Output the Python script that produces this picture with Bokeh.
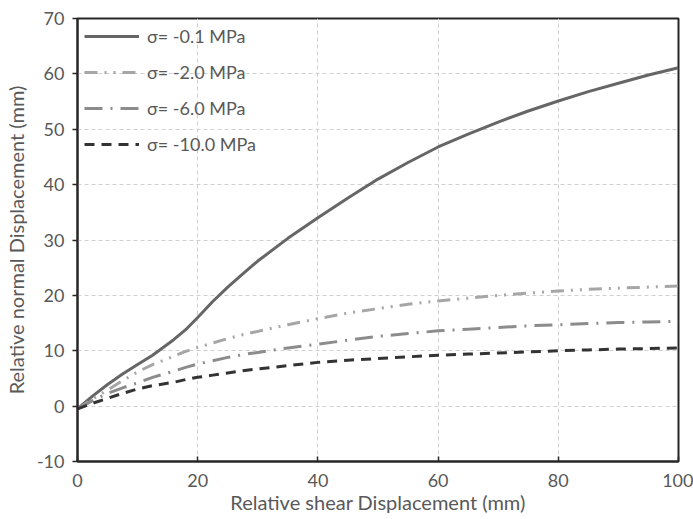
from bokeh.plotting import figure
from bokeh.models import Legend, LegendItem, FixedTicker, Range1d
from bokeh.embed import file_html
from bokeh.resources import INLINE

x_vals = [0, 2.5, 5, 7.5, 10, 12.5, 16, 18, 20, 22.5, 25, 27.5, 30, 35, 40, 45, 50, 55, 60, 65, 70, 75, 80, 85, 90, 95, 100]
s_01 = [-0.5, 1.8, 3.9, 5.8, 7.5, 9.2, 12.0, 13.8, 16.0, 18.9, 21.5, 23.9, 26.2, 30.3, 34.0, 37.6, 41.0, 44.0, 46.8, 49.1, 51.3, 53.3, 55.1, 56.8, 58.3, 59.8, 61.1]
s_20 = [-0.5, 1.3, 2.9, 4.6, 6.2, 7.5, 9.0, 9.9, 10.6, 11.4, 12.2, 12.9, 13.5, 14.7, 15.8, 16.8, 17.6, 18.4, 19.0, 19.5, 20.0, 20.4, 20.8, 21.1, 21.3, 21.5, 21.7]
s_60 = [-0.5, 1.0, 2.3, 3.3, 4.2, 5.2, 6.3, 7.0, 7.6, 8.2, 8.8, 9.3, 9.7, 10.5, 11.2, 11.9, 12.6, 13.1, 13.6, 13.9, 14.2, 14.5, 14.7, 14.9, 15.1, 15.2, 15.3]
s_100 = [-0.5, 0.5, 1.4, 2.3, 3.1, 3.7, 4.3, 4.8, 5.2, 5.6, 6.0, 6.4, 6.7, 7.3, 7.9, 8.3, 8.6, 8.9, 9.2, 9.4, 9.6, 9.8, 10.0, 10.15, 10.3, 10.4, 10.5]
labels = ["σ= -0.1 MPa", "σ= -2.0 MPa", "σ= -6.0 MPa", "σ= -10.0 MPa"]
x_ticks = [0, 20, 40, 60, 80, 100]
y_ticks = [-10, 0, 10, 20, 30, 40, 50, 60, 70]

FONT = "Lato"
TXT = "#595959"

p = figure(width=693, height=519, output_backend="svg", toolbar_location=None,
           x_range=Range1d(0, 100), y_range=Range1d(-10, 70),
           min_border_left=73, min_border_right=15, min_border_top=18, min_border_bottom=58)

p.outline_line_color = "#262626"
p.outline_line_width = 2
p.background_fill_color = "white"

for ax in (p.xaxis[0], p.yaxis[0]):
    ax.axis_line_color = "#262626"
    ax.axis_line_width = 2
    ax.major_tick_line_color = "#262626"
    ax.major_tick_line_width = 1.5
    ax.minor_tick_line_color = None
    ax.major_label_text_font = FONT
    ax.major_label_text_font_size = "18px"
    ax.major_label_text_color = TXT
    ax.axis_label_text_font = FONT
    ax.axis_label_text_font_size = "20px"
    ax.axis_label_text_color = TXT
    ax.axis_label_text_font_style = "normal"

p.xaxis.ticker = FixedTicker(ticks=x_ticks)
p.yaxis.ticker = FixedTicker(ticks=y_ticks)
p.yaxis.major_label_overrides = {t: str(t) for t in y_ticks}
p.xaxis.major_label_overrides = {t: str(t) for t in x_ticks}
p.xaxis.major_tick_in = 5
p.xaxis.major_tick_out = 0
p.yaxis.major_tick_in = 0
p.yaxis.major_tick_out = 5
p.xaxis.axis_label = "Relative shear Displacement (mm)"
p.yaxis.axis_label = "Relative normal Displacement (mm)"
p.xaxis.major_label_standoff = 12
p.yaxis.major_label_standoff = 8
p.xaxis.axis_label_standoff = 0
p.yaxis.axis_label_standoff = 6

for g in (p.xgrid[0], p.ygrid[0]):
    g.grid_line_color = "#d0d0d0"
    g.grid_line_dash = "4 3"
    g.grid_line_width = 1

r1 = p.line(x_vals, s_01, line_color="#666666", line_width=3)
r2 = p.line(x_vals, s_20, line_color="#a6a6a6", line_width=3, line_dash="13 7 2 7 2 7")
r3 = p.line(x_vals, s_60, line_color="#8c8c8c", line_width=3, line_dash="18 8 2 8")
r4 = p.line(x_vals, s_100, line_color="#333333", line_width=3, line_dash="10 7")

legend = Legend(items=[LegendItem(label=labels[i], renderers=[r]) for i, r in enumerate([r1, r2, r3, r4])],
                location="top_left")
legend.border_line_color = None
legend.background_fill_alpha = 0
legend.label_text_font = FONT
legend.label_text_font_size = "18px"
legend.label_text_color = TXT
legend.glyph_width = 55
legend.glyph_height = 20
legend.label_height = 20
legend.spacing = 14
legend.margin = 7
legend.padding = 6
legend.label_standoff = 8
p.add_layout(legend)

open("out.html", "w").write(file_html(p, INLINE))
